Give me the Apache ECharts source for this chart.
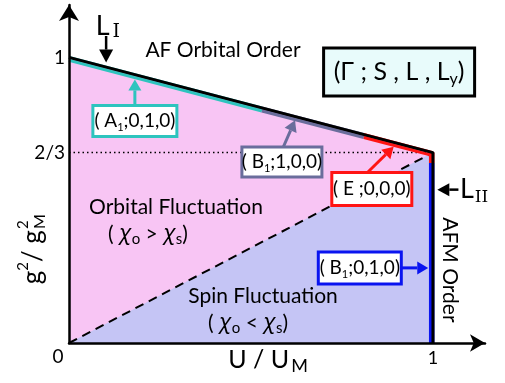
<!DOCTYPE html>
<html><head><meta charset="utf-8">
<script src="https://cdn.jsdelivr.net/npm/echarts@6/dist/echarts.min.js"></script>
<style>html,body{margin:0;padding:0;background:#fff}#c{width:505px;height:383px}</style>
</head><body><div id="c"></div>
<script>
// ---- data ----
const orderBoundary = [[0, 1], [1, 2/3]];          // upper phase boundary g^2/g_M^2 vs U/U_M
const criticalLine = [[1, 2/3], [1, 0]];           // U = U_M
const crossover = [[0, 0], [1, 2/3]];              // chi_o = chi_s
const twoThirds = [[0, 2/3], [1, 2/3]];
const segA1 = [[0, 1], [0.53, 0.823]];             // (A1;0,1,0)
const segB1 = [[0.53, 0.823], [0.81, 0.73]];       // (B1;1,0,0)
const segE = [[0.81, 0.73], [1, 2/3]];             // (E;0,0,0)
const segEv = [[1, 2/3], [1, 0.63]];
const segB1v = [[1, 0.63], [1, 0]];                // (B1;0,1,0)
const yTicks = [2/3, 1];
const yTickLabels = ['2/3', '1'];
const xTicks = [1];
const xTickLabels = ['1'];

const PINK = '#f8c5f4', LAV = '#c5c5f5';
const CYAN = '#2ec4be', SLATE = '#6a6d9c', RED = '#ff1414', BLUE = '#0a14f0';
const FF = 'Lato, "Noto Sans", sans-serif';

const chart = echarts.init(document.getElementById('c'));
function seg(data, color, ox, oy, z) {
  return {type: 'line', data, showSymbol: false, silent: true, z,
    lineStyle: {color, width: 3, shadowColor: color, shadowBlur: 0, shadowOffsetX: ox, shadowOffsetY: oy}};
}
chart.setOption({
  animation: false,
  grid: {left: 69, right: 20, top: 5, bottom: 40},
  xAxis: {type: 'value', min: 0, max: 1.143, z: 10,
    axisLine: {show: true, symbol: ['none', 'arrow'], symbolSize: [13, 15], lineStyle: {color: '#000', width: 2.5}},
    axisTick: {show: false}, splitLine: {show: false},
    axisLabel: {customValues: xTicks, formatter: v => xTickLabels[0], fontSize: 18, color: '#000', fontFamily: FF, margin: 6}},
  yAxis: {type: 'value', min: 0, max: 1.1835, z: 10,
    axisLine: {show: true, symbol: ['none', 'arrow'], symbolSize: [15, 16], lineStyle: {color: '#000', width: 2.5}},
    axisTick: {show: false}, splitLine: {show: false},
    axisLabel: {customValues: yTicks, formatter: v => yTickLabels[Math.abs(v - 1) < 0.01 ? 1 : 0], fontSize: 19, color: '#000', fontFamily: FF, margin: 4}},
  series: [
    {type: 'line', data: orderBoundary, showSymbol: false, silent: true, z: 1, lineStyle: {width: 0}, areaStyle: {color: PINK, opacity: 1}},
    {type: 'line', data: crossover, showSymbol: false, silent: true, z: 2, lineStyle: {width: 0}, areaStyle: {color: LAV, opacity: 1}},
    {type: 'line', data: twoThirds, showSymbol: false, silent: true, z: 3, lineStyle: {color: '#000', width: 1.5, type: [1.5, 3]}},
    {type: 'line', data: crossover, showSymbol: false, silent: true, z: 3, lineStyle: {color: '#000', width: 2, type: [9, 6]}},
    seg(segA1, CYAN, 0, 3, 4), seg(segB1, SLATE, 0, 3, 4), seg(segE, RED, 0, 3, 4),
    seg(segEv, RED, -2.5, 0, 4), seg(segB1v, BLUE, -2.5, 0, 4),
    {type: 'line', data: orderBoundary.concat(criticalLine.slice(1)), showSymbol: false, silent: true, z: 5, lineStyle: {color: '#000', width: 3}}
  ]
});

const px = (u, g) => chart.convertToPixel({gridIndex: 0}, [u, g]);
const G = [];
function arrow(p0, p1, color, w, hl, hw) {
  const dx = p1[0] - p0[0], dy = p1[1] - p0[1], L = Math.hypot(dx, dy), ux = dx / L, uy = dy / L;
  const bx = p1[0] - ux * hl, by = p1[1] - uy * hl;
  G.push({type: 'line', z: 20, shape: {x1: p0[0], y1: p0[1], x2: bx, y2: by}, style: {stroke: color, lineWidth: w}});
  G.push({type: 'polygon', z: 20, shape: {points: [[p1[0], p1[1]], [bx - uy * hw / 2, by + ux * hw / 2], [bx + uy * hw / 2, by - ux * hw / 2]]}, style: {fill: color}});
}
const richBase = {
  n: {fontSize: 19, fontFamily: FF, fill: '#000', lineHeight: 24},
  s: {fontSize: 11, fontFamily: FF, fill: '#000', lineHeight: 24, verticalAlign: 'bottom'}
};
function box(u, g, w, h, color, text, rich, fill) {
  const c = px(u, g);
  G.push({type: 'rect', z: 21, shape: {x: c[0] - w / 2, y: c[1] - h / 2, width: w, height: h},
    style: {fill: fill || '#fff', stroke: color, lineWidth: 3}});
  G.push({type: 'text', z: 22, x: c[0], y: c[1], style: {text, rich: rich || richBase, align: 'center', verticalAlign: 'middle'}});
}
function txt(u, g, text, size, opts) {
  const c = px(u, g);
  G.push(Object.assign({type: 'text', z: 22, x: c[0], y: c[1],
    style: Object.assign({text, fontSize: size, fontFamily: FF, fill: '#000', align: 'center', verticalAlign: 'middle'}, (opts && opts.style) || {})},
    (opts && opts.el) || {}));
}

// boxes and arrows
box(0.181, 0.777, 84, 31, CYAN, '{n|( A}{s|1}{n|;0,1,0)}');
arrow(px(0.181, 0.815), px(0.181, 0.923), CYAN, 3, 11, 13);
box(0.585, 0.634, 80, 30, SLATE, '{n|( B}{s|1}{n|;1,0,0)}');
arrow(px(0.589, 0.687), px(0.621, 0.78), SLATE, 3, 11, 13);
box(0.832, 0.539, 80, 33, RED, '{n|( E ;0,0,0)}');
arrow(px(0.82, 0.597), px(0.892, 0.687), RED, 3, 11, 13);
box(0.799, 0.263, 83, 32, BLUE, '{n|( B}{s|1}{n|;0,1,0)}');
arrow(px(0.913, 0.263), px(0.987, 0.263), BLUE, 3, 11, 13);

// legend box
box(0.907, 0.949, 151, 48, '#000', '{n|(Γ ; S , L , L}{s|y}{n|)}', {
  n: {fontSize: 25, fontFamily: FF, fill: '#000', lineHeight: 30},
  s: {fontSize: 16, fontFamily: FF, fill: '#000', lineHeight: 30, verticalAlign: 'bottom'}
}, '#e8fbfb');

// L_I and L_II
txt(0.107, 1.11, '{L|L}{i|I}', 26, {style: {rich: {
  L: {fontSize: 27, fontFamily: FF, fill: '#000', lineHeight: 32},
  i: {fontSize: 19, fontFamily: '"DejaVu Serif", serif', fill: '#000', lineHeight: 32, verticalAlign: 'bottom', padding: [0, 0, 0, 3]}}}});
arrow(px(0.102, 1.075), px(0.102, 0.982), '#000', 2.5, 13, 14);
txt(1.113, 0.537, '{L|L}{i|II}', 26, {style: {rich: {
  L: {fontSize: 27, fontFamily: FF, fill: '#000', lineHeight: 32},
  i: {fontSize: 17, fontFamily: '"DejaVu Serif", serif', fill: '#000', lineHeight: 32, verticalAlign: 'bottom', padding: [0, 0, 0, 1]}}}});
arrow(px(1.07, 0.537), px(1.012, 0.537), '#000', 2.5, 12, 13);

// region labels
txt(0.423, 1.026, 'AF Orbital Order', 21);
txt(0.294, 0.476, 'Orbital Fluctuation', 21);
const chiRich = {
  n: {fontSize: 21, fontFamily: FF, fill: '#000', lineHeight: 26},
  c: {fontSize: 22, fontFamily: '"Noto Sans", sans-serif', fontStyle: 'italic', fill: '#000', lineHeight: 26},
  s: {fontSize: 15, fontFamily: FF, fill: '#000', lineHeight: 26, verticalAlign: 'bottom'}
};
txt(0.217, 0.382, '{n|( }{c|χ}{s|o}{n| > }{c|χ}{s|s}{n|)}', 21, {style: {rich: chiRich}});
txt(0.533, 0.165, 'Spin Fluctuation', 21);
txt(0.492, 0.070, '{n|( }{c|χ}{s|o}{n| < }{c|χ}{s|s}{n|)}', 21, {style: {rich: chiRich}});
txt(1.047, 0.256, 'AFM Order', 21, {el: {rotation: -Math.PI / 2}});

// origin label and axis titles
txt(-0.03, -0.049, '0', 19);
txt(0.547, -0.06, '{n|U / U}{s|M}', 24, {style: {rich: {
  n: {fontSize: 25, fontFamily: FF, fill: '#000', lineHeight: 30},
  s: {fontSize: 18, fontFamily: FF, fill: '#000', lineHeight: 30, verticalAlign: 'bottom', padding: [0, 0, 0, 2]}}}});
// y title: g^2 / g^2_M, rotated
(function () {
  const c = px(-0.101, 0.33);
  const f = 26, ff = FF;
  const ctx = document.createElement('canvas').getContext('2d');
  const mw = (t, s) => { ctx.font = s + 'px ' + ff; return ctx.measureText(t).width; };
  const parts = [];
  const w1 = mw('g', f), w2 = mw('2', 15), w3 = mw('/ g', f), w4 = Math.max(mw('2', 15), mw('M', 16));
  const total = w1 + w2 + w3 + w4 + 2;
  let x = -total / 2;
  parts.push({type: 'text', x: x, y: 0, style: {text: 'g', fontSize: f, fontFamily: ff, fill: '#000', verticalAlign: 'middle'}});
  x += w1;
  parts.push({type: 'text', x: x, y: -9, style: {text: '2', fontSize: 15, fontFamily: ff, fill: '#000', verticalAlign: 'middle'}});
  x += w2;
  parts.push({type: 'text', x: x, y: 0, style: {text: '/ g', fontSize: f, fontFamily: ff, fill: '#000', verticalAlign: 'middle'}});
  x += w3 + 1;
  parts.push({type: 'text', x: x, y: -9, style: {text: '2', fontSize: 15, fontFamily: ff, fill: '#000', verticalAlign: 'middle'}});
  parts.push({type: 'text', x: x, y: 8, style: {text: 'M', fontSize: 16, fontFamily: ff, fill: '#000', verticalAlign: 'middle'}});
  G.push({type: 'group', x: c[0], y: c[1], rotation: Math.PI / 2, z: 22, children: parts});
})();

chart.setOption({graphic: G});
</script></body></html>
